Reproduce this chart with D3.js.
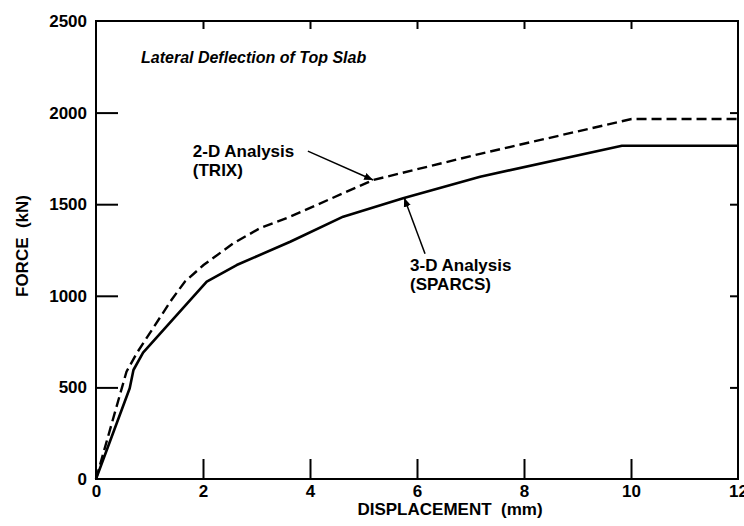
<!DOCTYPE html>
<html>
<head>
<meta charset="utf-8">
<script src="https://cdn.jsdelivr.net/npm/d3@7"></script>
<style>
  body { margin: 0; background: #fff; }
  svg text { font-family: "Liberation Sans", Arial, Helvetica, sans-serif; font-weight: bold; fill: #000; }
</style>
</head>
<body>
<svg width="744" height="526"></svg>
<script>
// Force vs displacement, lateral deflection of top slab

// 3-D analysis (SPARCS), solid line
var sparcs_x = [0, 0.63, 0.70, 0.88, 2.07, 2.63, 3.63, 4.62, 5.74, 7.18, 9.83, 12];
var sparcs_y = [0, 495, 595, 690, 1077, 1168, 1295, 1432, 1532, 1650, 1819, 1819];

// 2-D analysis (TRIX), dashed line
var trix_x = [0, 0.57, 0.76, 1.41, 1.66, 2.01, 2.57, 3.07, 3.63, 5.18, 7.18, 10.01, 12];
var trix_y = [0, 586, 686, 977, 1077, 1168, 1287, 1370, 1432, 1632, 1775, 1965, 1965];

var x_ticks = [0, 2, 4, 6, 8, 10, 12];
var y_ticks = [0, 500, 1000, 1500, 2000, 2500];

var svg_handle = d3.select("svg");

var x = d3.scaleLinear().domain([0, 12]).range([96, 738]);
var y = d3.scaleLinear().domain([0, 2500]).range([479, 21]);

// frame
svg_handle.append("rect")
	.attr("x", x(0)).attr("y", y(2500))
	.attr("width", x(12) - x(0)).attr("height", y(0) - y(2500))
	.attr("fill", "none").attr("stroke", "#000").attr("stroke-width", 2);

// bottom axis, long ticks pointing in
var x_axis = svg_handle.append("g")
	.attr("transform", "translate(0," + y(0) + ")")
	.call(d3.axisBottom(x).tickValues(x_ticks).tickSizeInner(-20).tickSizeOuter(0).tickPadding(6).tickFormat(d3.format("d")));
x_axis.select(".domain").remove();
x_axis.selectAll(".tick line").filter(d => d == 0 || d == 12).remove();

// left axis
var y_axis = svg_handle.append("g")
	.attr("transform", "translate(" + x(0) + ",0)")
	.call(d3.axisLeft(y).tickValues(y_ticks).tickSizeInner(-22).tickSizeOuter(0).tickPadding(9).tickFormat(d3.format("d")));
y_axis.select(".domain").remove();
y_axis.selectAll(".tick line").filter(d => d == 0 || d == 2500).remove();

// short ticks on top and right
var top_axis = svg_handle.append("g")
	.attr("transform", "translate(0," + y(2500) + ")")
	.call(d3.axisTop(x).tickValues([2, 4, 6, 8, 10]).tickSizeInner(-8).tickSizeOuter(0).tickFormat(""));
top_axis.select(".domain").remove();

var right_axis = svg_handle.append("g")
	.attr("transform", "translate(" + x(12) + ",0)")
	.call(d3.axisRight(y).tickValues([500, 1000, 1500, 2000]).tickSizeInner(-8).tickSizeOuter(0).tickFormat(""));
right_axis.select(".domain").remove();

svg_handle.selectAll(".tick line").attr("stroke", "#000").attr("stroke-width", 2);
svg_handle.selectAll(".tick text")
	.style("font-size", "17px")
	.style("font-family", "'Liberation Sans', Arial, sans-serif")
	.style("font-weight", "bold")
	.attr("fill", "#000");

// axis titles
svg_handle.append("text")
	.attr("x", 450).attr("y", 515)
	.attr("text-anchor", "middle")
	.style("font-size", "17px")
	.style("white-space", "pre")
	.text("DISPLACEMENT  (mm)");

svg_handle.append("text")
	.attr("transform", "translate(28,246) rotate(-90)")
	.attr("text-anchor", "middle")
	.style("font-size", "17px")
	.style("white-space", "pre")
	.text("FORCE  (kN)");

// curves
var line = d3.line().x(d => x(d[0])).y(d => y(d[1]));

svg_handle.append("path")
	.datum(sparcs_x.map((v, i) => [v, sparcs_y[i]]))
	.attr("d", line)
	.attr("fill", "none").attr("stroke", "#000").attr("stroke-width", 2.6)
	.attr("stroke-linejoin", "round");

svg_handle.append("path")
	.datum(trix_x.map((v, i) => [v, trix_y[i]]))
	.attr("d", line)
	.attr("fill", "none").attr("stroke", "#000").attr("stroke-width", 2.4)
	.attr("stroke-dasharray", "10,5");

// title
svg_handle.append("text")
	.attr("x", 141).attr("y", 63)
	.style("font-size", "16px")
	.style("font-style", "italic")
	.text("Lateral Deflection of Top Slab");

// annotations with arrows
svg_handle.append("defs").append("marker")
	.attr("id", "head")
	.attr("viewBox", "0 0 10 10")
	.attr("refX", 10).attr("refY", 5)
	.attr("markerWidth", 6).attr("markerHeight", 6)
	.attr("orient", "auto")
	.append("path").attr("d", "M0,1 L10,5 L0,9 Z").attr("fill", "#000");

var notes = [
	{lines: ["2-D Analysis", "(TRIX)"], tx: 1.81, ty: 1760, from: [3.96, 1790], to: [5.18, 1632]},
	{lines: ["3-D Analysis", "(SPARCS)"], tx: 5.87, ty: 1135, from: [6.15, 1230], to: [5.76, 1535]}
];

notes.forEach(n => {
	svg_handle.append("line")
		.attr("x1", x(n.from[0])).attr("y1", y(n.from[1]))
		.attr("x2", x(n.to[0])).attr("y2", y(n.to[1]))
		.attr("stroke", "#000").attr("stroke-width", 1.5)
		.attr("marker-end", "url(#head)");
	n.lines.forEach((t, i) => {
		svg_handle.append("text")
			.attr("x", x(n.tx)).attr("y", y(n.ty) + i * 19)
			.style("font-size", "17px")
			.text(t);
	});
});
</script>
</body>
</html>
